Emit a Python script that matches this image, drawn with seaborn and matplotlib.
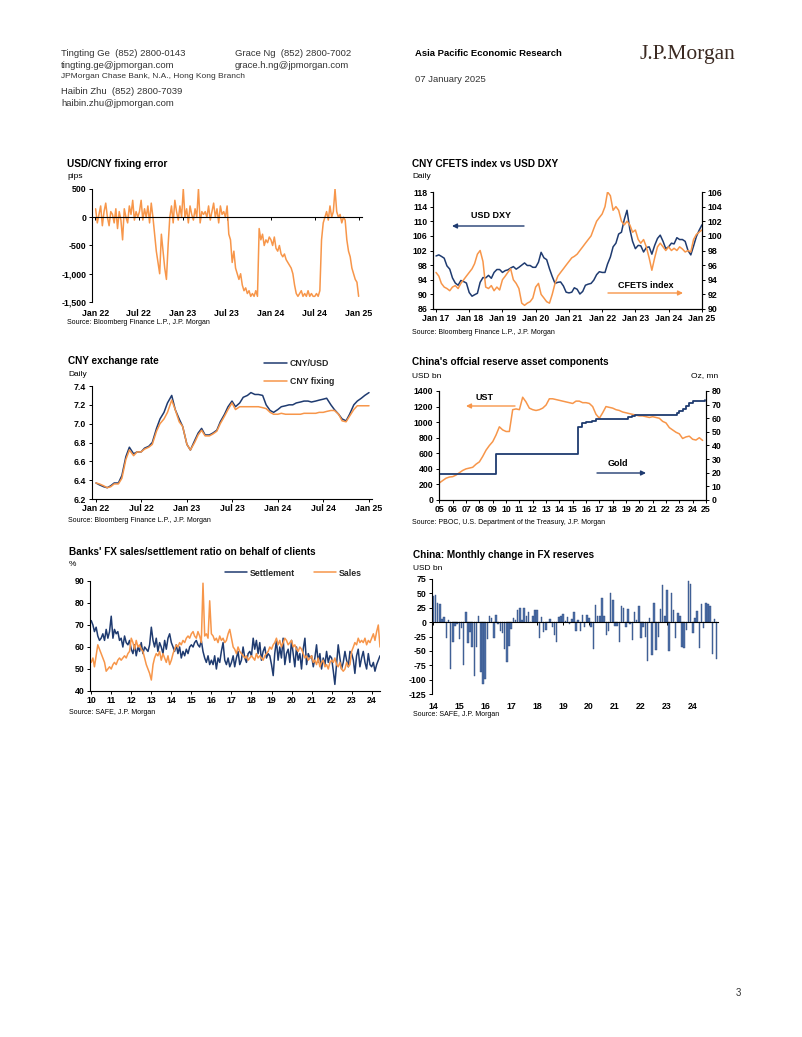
import numpy as np
import pandas as pd
import matplotlib
matplotlib.use("Agg")
import matplotlib.pyplot as plt
import matplotlib.ticker as mticker
from matplotlib.patches import FancyArrowPatch
from matplotlib import font_manager
import seaborn as sns

# ---------------- data ----------------
# USD/CNY fixing error, pips, weekly from 2022-01-03
fix_err = [
    150, -100, 50, 200, -150, 100, 250, 0, -150, 100, 50, -100, 150,
    -200, 100, -50, -400, 150, 0, -100, 200, 50, 300, -50, 100, 0,
    100, 300, -50, 150, 0, 200, -100, 250, 0, -300, -600, -800, -1000,
    -300, -600, -900, -1100, -500, 0, 200, -100, 300, 100, -50, 200, 0,
    500, 0, 150, -100, 200, 50, -50, 150, 0, 500, -100, 100, 50,
    100, 0, 200, -50, 100, 250, 0, 150, -100, 200, 50, 100, 0,
    200, -300, -400, -800, -600, -900, -1000, -1100, -1000, -1200, -1300, -1250, -1350,
    -1300, -1400, -1350, -1400, -1300, -1400, -200, -400, -300, -500, -400, -450, -350,
    -400, -500, -350, -550, -600, -500, -650, -700, -650, -750, -800, -850, -900,
    -1000, -1200, -1350, -1400, -1350, -1300, -1400, -1350, -1400, -1300, -1400, -1350, -1400,
    -1400, -1350, -1400, -1300, -400, -100, 0, 100, -50, 200, 0, 100, 500,
    100, 0, 50, -100, 0, -50, -400, -600, -700, -900, -1000, -1100, -1150,
    -1400,
]

# USD DXY (left) and CNY CFETS index (right), monthly from 2017-01
dxy = [
    100.5, 100.8, 100.4, 99.9, 97.8, 96.9, 94.5, 93.1, 92.5, 93.8, 93.5, 93.1,
    90.5, 89.5, 89.9, 90.3, 93.3, 94.6, 94.5, 95.2, 94.4, 96.0, 96.8, 96.8,
    96.0, 96.5, 96.7, 97.2, 97.6, 96.9, 97.4, 98.0, 98.6, 97.9, 97.9, 97.4,
    97.4, 98.8, 101.5, 100.0, 99.5, 97.0, 94.9, 93.0, 93.3, 93.4, 92.3, 90.6,
    90.4, 90.6, 91.8, 91.4, 90.1, 90.8, 92.5, 92.8, 93.0, 93.9, 95.4, 96.2,
    96.0, 96.0, 98.3, 100.2, 103.0, 104.0, 106.5, 107.0, 110.5, 113.0, 107.8, 104.5,
    102.5, 103.4, 103.3, 101.6, 102.8, 103.0, 101.0, 103.4, 105.3, 106.2, 104.5, 102.5,
    103.0, 104.0, 103.8, 105.5, 105.0, 105.0, 104.5, 102.0, 100.8, 103.2, 105.8, 107.5,
    109.0,
]
cfets = [
    95.0, 94.5, 93.5, 93.0, 92.8, 92.5, 93.0, 93.2, 92.8, 93.5, 94.0, 94.5,
    95.0, 95.5, 96.2, 97.5, 98.0, 96.5, 93.0, 92.8, 93.2, 92.5, 93.0, 92.6,
    94.0, 94.5, 95.0, 95.5, 94.0, 93.5, 92.8, 90.8, 90.5, 90.8, 91.0, 91.5,
    93.0, 93.5, 92.0, 91.5, 91.0, 90.8, 92.0, 93.5, 94.5, 95.0, 95.5, 96.0,
    96.5, 97.0, 97.2, 97.5, 98.0, 98.5, 99.0, 99.5, 100.0, 101.0, 102.0, 102.5,
    103.0, 104.0, 106.0, 105.5, 103.5, 104.0, 103.5, 102.0, 101.5, 102.0, 101.5, 100.5,
    100.8, 99.5, 99.0, 99.5, 98.5, 97.0, 95.3, 97.0, 98.5, 99.0, 98.5, 98.0,
    98.5, 98.0, 98.3, 98.0, 98.5, 98.2, 97.8, 98.0, 97.8, 99.5, 100.2, 100.5,
    100.8,
]

# CNY exchange rate, semi-monthly from 2022-01-01
cny_spot = [
    6.37, 6.35, 6.33, 6.32, 6.34, 6.37, 6.37, 6.45, 6.65, 6.75, 6.68, 6.70,
    6.70, 6.74, 6.76, 6.80, 6.95, 7.05, 7.12, 7.22, 7.30, 7.15, 7.05, 6.97,
    6.78, 6.72, 6.82, 6.90, 6.95, 6.88, 6.88, 6.90, 6.93, 7.02, 7.10, 7.18,
    7.24, 7.18, 7.22, 7.28, 7.30, 7.33, 7.31, 7.31, 7.30, 7.20, 7.14, 7.12,
    7.15, 7.18, 7.19, 7.20, 7.20, 7.22, 7.23, 7.24, 7.24, 7.23, 7.24, 7.25,
    7.26, 7.27, 7.20, 7.15, 7.10, 7.05, 7.03, 7.10, 7.20, 7.24, 7.27, 7.30,
    7.33,
]
cny_fix = [
    6.37, 6.36, 6.34, 6.32, 6.33, 6.36, 6.36, 6.42, 6.62, 6.72, 6.66, 6.70,
    6.70, 6.73, 6.75, 6.78, 6.92, 7.00, 7.05, 7.12, 7.25, 7.15, 7.02, 6.97,
    6.78, 6.72, 6.80, 6.88, 6.93, 6.87, 6.87, 6.89, 6.92, 7.00, 7.08, 7.15,
    7.22, 7.15, 7.18, 7.18, 7.18, 7.18, 7.18, 7.18, 7.17, 7.16, 7.12, 7.10,
    7.10, 7.11, 7.10, 7.10, 7.10, 7.10, 7.10, 7.11, 7.11, 7.11, 7.11, 7.12,
    7.12, 7.13, 7.14, 7.14, 7.10, 7.03, 7.02, 7.08, 7.15, 7.19, 7.19, 7.19,
    7.19,
]

# China's UST holdings, USD bn, quarterly from 2005Q1
ust = [
    220, 250, 280, 295, 300, 320, 350, 380, 400, 410, 420, 460,
    490, 560, 640, 700, 750, 835, 940, 900, 880, 880, 1160, 1170,
    1160, 1320, 1260, 1180, 1160, 1150, 1160, 1180, 1220, 1300, 1300, 1290,
    1280, 1270, 1260, 1250, 1240, 1270, 1270, 1250, 1250, 1240, 1200, 1100,
    1050, 1120, 1200, 1190, 1180, 1160, 1150, 1130, 1120, 1110, 1100, 1090,
    1080, 1080, 1070, 1060, 1070, 1060, 1050, 1010, 990, 930, 900, 870,
    850, 790, 810, 820, 780, 770, 800, 765,
]
# PBOC gold holdings, oz mn (step changes)
gold_dates = ["2005-01", "2009-04", "2015-06", "2015-09", "2016-01", "2016-06",
              "2016-10", "2018-12", "2019-03", "2019-06", "2019-09", "2022-11",
              "2023-01", "2023-04", "2023-07", "2023-10", "2024-01", "2024-05",
              "2024-12"]
gold_oz = [19.3, 33.9, 53.3, 56.7, 57.2, 58.1, 59.2, 59.6, 60.6, 61.6, 62.6,
           63.7, 65.1, 66.5, 68.7, 70.9, 72.6, 72.8, 73.3]

# Banks' FX settlement / sales ratio, %, monthly from 2010-01
settlement = [
    72, 70, 67, 69, 65, 63, 64, 66, 63, 68, 64, 67,
    74, 64, 68, 66, 67, 63, 64, 60, 65, 62, 61, 63,
    59, 57, 61, 56, 60, 58, 62, 57, 60, 59, 58, 61,
    69, 63, 60, 64, 58, 62, 60, 57, 63, 59, 64, 66,
    62, 60, 58, 61, 57, 60, 55, 58, 56, 59, 57, 60,
    61, 60, 62, 63, 61, 60, 63, 58, 55, 53, 56, 52,
    54, 52, 56, 50, 55, 53, 58, 62, 54, 52, 55, 51,
    53, 56, 51, 55, 58, 52, 54, 60, 55, 53, 57, 58,
    56, 64, 59, 63, 57, 62, 54, 58, 60, 55, 57, 56,
    52, 47, 57, 63, 54, 60, 55, 64, 52, 57, 59, 53,
    63, 57, 51, 60, 54, 57, 50, 59, 64, 52, 57, 55,
    56, 51, 55, 61, 53, 57, 50, 55, 52, 58, 53, 56,
    55, 49, 43, 52, 61, 55, 50, 53, 58, 54, 51, 58,
    57, 54, 48, 56, 59, 51, 55, 58, 53, 50, 57, 52,
    51, 53, 49, 52, 54, 56,
]
sales = [
    53, 55, 51, 56, 61, 59, 57, 55, 53, 49, 50, 51,
    50, 52, 53, 52, 54, 55, 54, 55, 56, 55, 57, 58,
    64, 62, 59, 63, 60, 61, 59, 58, 55, 52, 50, 48,
    45, 52, 55, 57, 56, 58, 54, 57, 55, 53, 56, 52,
    54, 57, 59, 61, 60, 62, 61, 63, 62, 64, 65, 64,
    66, 67, 65, 64, 67, 65, 62, 89, 65, 66, 64, 81,
    66, 65, 63, 64, 62, 65, 63, 64, 62, 63, 66, 68,
    64, 60, 59, 57, 60, 58, 57, 56, 55, 56, 54, 55,
    56, 55, 54, 57, 55, 56, 55, 54, 56, 57, 58, 60,
    59, 61, 62, 64, 61, 63, 60, 62, 64, 63, 61, 62,
    63, 60, 61, 59, 58, 60, 59, 57, 55, 56, 54, 55,
    56, 53, 54, 52, 55, 51, 53, 54, 51, 52, 50, 53,
    54, 53, 55, 52, 51, 53, 50, 49, 50, 53, 51, 52,
    58, 60, 62, 61, 64, 62, 63, 62, 64, 61, 63, 62,
    64, 66, 63, 67, 70, 60,
]

# China monthly change in FX reserves, USD bn, 2014-01 .. 2024-12
fx_chg = [
    45, 48, 34, 31, 5, 9, -27, 3, -81, -35, -6, -4,
    -30, -11, -74, 18, -37, -17, -43, -94, -43, 11, -87, -108,
    -99, -29, 10, 7, -28, 13, -4, -16, -19, -46, -69, -41,
    -12, 7, 4, 21, 24, 3, 24, 11, 17, 0, 10, 21,
    21, -27, 9, -18, -14, 1, 6, -8, -23, -34, 9, 11,
    15, 2, 9, -4, 6, 18, -15, 3, -15, 13, -9, 12,
    8, -9, -46, 30, 11, 10, 42, 11, -22, -15, 50, 39,
    -6, -6, -35, 28, 24, -8, 22, -4, -31, 17, 4, 28,
    -28, -8, -26, -68, 8, -57, 33, -49, -26, 23, 65, 11,
    56, -51, 51, 21, -28, 16, 11, -44, -45, -14, 71, 66,
    -19, 7, 20, -45, 31, -10, 34, 32, 28, -55, 5, -64,
]
fx_years = ["14", "15", "16", "17", "18", "19", "20", "21", "22", "23", "24"]

# ---------------- style ----------------
W, H = 802, 1037
NAVY = "#1f3b70"
ORANGE = "#f7964a"
BARC = "#4f70a8"

sns.set_theme(style="ticks")
installed = {f.name for f in font_manager.fontManager.ttflist}
NARROW = "Liberation Sans Narrow" if "Liberation Sans Narrow" in installed else "Liberation Sans"
plt.rcParams["font.family"] = ["Liberation Sans", "DejaVu Sans"]
plt.rcParams.update({
    "font.weight": "bold",
    "axes.unicode_minus": False,
    "axes.linewidth": 0.8,
    "axes.edgecolor": "black",
    "xtick.color": "black",
    "ytick.color": "black",
    "xtick.labelsize": 6.3,
    "ytick.labelsize": 6.3,
    "xtick.major.size": 2.3,
    "ytick.major.size": 2.3,
    "xtick.major.width": 0.7,
    "ytick.major.width": 0.7,
    "xtick.major.pad": 1.5,
    "ytick.major.pad": 1.8,
})

fig = plt.figure(figsize=(W / 100, H / 100), dpi=100)


def px(x, y):
    return (x / W, 1 - y / H)


def label(x, y, s, size=6.3, weight="normal", ha="left", family=None, color="black"):
    fig.text(*px(x, y), s, fontsize=size, fontweight=weight, ha=ha, va="center",
             color=color, family=family or ["Liberation Sans", "DejaVu Sans"])


def add_ax(l, t, r, b):
    return fig.add_axes([l / W, 1 - b / H, (r - l) / W, (b - t) / H])


def frame(ax, sides):
    for s in ax.spines:
        ax.spines[s].set_visible(s in sides)
    ax.set(xlabel="", ylabel="")


def arrow(x0, x1, y, color):
    fig.add_artist(FancyArrowPatch(px(x0, y), px(x1, y), transform=fig.transFigure,
                                   arrowstyle="-|>", mutation_scale=7, color=color,
                                   lw=1.0, shrinkA=0, shrinkB=0))


def title(x, y, s):
    label(x, y, s, size=7.2, weight="bold")


SRC_BB = "Source: Bloomberg Finance L.P., J.P. Morgan"

# ---------------- header ----------------
HC = "#333333"
label(61, 54, "Tingting Ge  (852) 2800-0143", size=6.8, family=NARROW, color=HC)
label(61, 66, "tingting.ge@jpmorgan.com", size=6.8, family=NARROW, color=HC)
label(61, 77, "JPMorgan Chase Bank, N.A., Hong Kong Branch", size=6.0, family=NARROW, color=HC)
label(61, 91, "Haibin Zhu  (852) 2800-7039", size=6.8, family=NARROW, color=HC)
label(61, 103, "haibin.zhu@jpmorgan.com", size=6.8, family=NARROW, color=HC)
label(235, 54, "Grace Ng  (852) 2800-7002", size=6.8, family=NARROW, color=HC)
label(235, 66, "grace.h.ng@jpmorgan.com", size=6.8, family=NARROW, color=HC)
label(415, 54, "Asia Pacific Economic Research", size=6.8, weight="bold", family=NARROW)
label(415, 79, "07 January 2025", size=6.8, family=NARROW, color=HC)
label(640, 54, "J.P.Morgan", size=15.5, family=["Liberation Serif", "DejaVu Serif"], color="#3b2a22")
label(741, 993, "3", size=7, ha="right", color=HC)

# ---------------- chart 1: USD/CNY fixing error ----------------
title(67, 164, "USD/CNY fixing error")
label(67, 177, "pips", size=6)
ax = add_ax(92, 189, 362, 302)
d1 = pd.date_range("2022-01-03", periods=len(fix_err), freq="7D")
sns.lineplot(x=d1, y=fix_err, ax=ax, color=ORANGE, linewidth=1.1)
ax.set_ylim(-1500, 500)
ax.set_yticks([500, 0, -500, -1000, -1500])
ax.yaxis.set_major_formatter(mticker.FuncFormatter(lambda v, p: f"{v:,.0f}"))
ax.set_xlim(pd.Timestamp("2021-12-19"), pd.Timestamp("2025-01-13"))
t1 = pd.date_range("2022-01-01", "2025-01-01", freq="6MS")
ax.set_xticks(t1)
ax.set_xticklabels([d.strftime("%b %y") for d in t1])
frame(ax, ("left", "bottom"))
ax.spines["bottom"].set_position(("data", 0))
ax.tick_params(axis="x", pad=63.5)
label(67, 323, SRC_BB, size=5)

# ---------------- chart 2: CFETS vs DXY ----------------
title(412, 164, "CNY CFETS index vs USD DXY")
label(412, 177, "Daily", size=6)
ax = add_ax(433, 192, 702, 309)
d2 = pd.date_range("2017-01-01", periods=len(dxy), freq="MS")
sns.lineplot(x=d2, y=dxy, ax=ax, color=NAVY, linewidth=1.1)
ax.set_ylim(86, 118)
ax.set_yticks(range(86, 119, 4))
ax.set_xlim(pd.Timestamp("2016-11-29"), pd.Timestamp("2025-01-02"))
t2 = pd.date_range("2017-01-01", "2025-01-01", freq="YS")
ax.set_xticks(t2)
ax.set_xticklabels([d.strftime("%b %y") for d in t2])
frame(ax, ("left", "bottom", "right"))
axr = ax.twinx()
sns.lineplot(x=d2, y=cfets, ax=axr, color=ORANGE, linewidth=1.1)
axr.set_ylim(90, 106)
axr.set_yticks(range(90, 107, 2))
frame(axr, ("left", "bottom", "right"))
label(471, 215, "USD DXY", size=6.5, weight="bold")
arrow(524, 452, 226, NAVY)
label(618, 286, "CFETS index", size=6.5, weight="bold")
arrow(608, 683, 293, ORANGE)
label(412, 332, SRC_BB, size=5)

# ---------------- chart 3: CNY exchange rate ----------------
title(68, 361, "CNY exchange rate")
label(68, 374, "Daily", size=6)
ax = add_ax(92, 386, 372, 499)
d3 = pd.date_range("2022-01-01", periods=len(cny_spot), freq="SMS")
sns.lineplot(x=d3, y=cny_spot, ax=ax, color=NAVY, linewidth=1.1, label="CNY/USD")
sns.lineplot(x=d3, y=cny_fix, ax=ax, color=ORANGE, linewidth=1.1, label="CNY fixing")
ax.set_ylim(6.2, 7.4)
ax.set_yticks(np.arange(6.2, 7.41, 0.2))
ax.yaxis.set_major_formatter(mticker.FormatStrFormatter("%.1f"))
ax.set_xlim(pd.Timestamp("2021-12-16"), pd.Timestamp("2025-01-13"))
ax.set_xticks(t1)
ax.set_xticklabels([d.strftime("%b %y") for d in t1])
frame(ax, ("left", "bottom"))
ax.legend(loc="upper left", bbox_to_anchor=px(264, 359.5), bbox_transform=fig.transFigure,
          frameon=False, fontsize=6.3, borderpad=0, borderaxespad=0, handlelength=2.6,
          handletextpad=0.35, labelspacing=1.0)
label(68, 520, SRC_BB, size=5)

# ---------------- chart 4: reserve asset components ----------------
title(412, 362, "China's offcial reserve asset components")
label(412, 376, "USD bn", size=6)
label(718, 376, "Oz, mn", size=6, ha="right")
ax = add_ax(439, 391, 706, 500)
d4 = pd.date_range("2005-01-01", periods=len(ust), freq="QS")
sns.lineplot(x=d4, y=ust, ax=ax, color=ORANGE, linewidth=1.1)
ax.set_ylim(0, 1400)
ax.set_yticks(range(0, 1401, 200))
ax.set_xlim(pd.Timestamp("2004-12-20"), pd.Timestamp("2025-01-01"))
t4 = pd.date_range("2005-01-01", "2025-01-01", freq="YS")
ax.set_xticks(t4)
ax.set_xticklabels([d.strftime("%y") for d in t4])
frame(ax, ("left", "bottom", "right"))
axr = ax.twinx()
sns.lineplot(x=pd.to_datetime(gold_dates), y=gold_oz, ax=axr, color=NAVY,
             linewidth=1.3, drawstyle="steps-post")
axr.set_ylim(0, 80)
axr.set_yticks(range(0, 81, 10))
frame(axr, ("left", "bottom", "right"))
label(475, 398, "UST", size=6.5, weight="bold")
arrow(515, 466, 406, ORANGE)
label(608, 463, "Gold", size=6.5, weight="bold")
arrow(597, 646, 473, NAVY)
label(412, 523, "Source: PBOC, U.S. Department of the Treasury, J.P. Morgan", size=5)

# ---------------- chart 5: banks' FX ratio ----------------
title(69, 552, "Banks' FX sales/settlement ratio on behalf of clients")
label(69, 565, "%", size=6)
ax = add_ax(90, 581, 380, 691)
d5 = pd.date_range("2010-01-01", periods=len(settlement), freq="MS")
sns.lineplot(x=d5, y=settlement, ax=ax, color=NAVY, linewidth=1.1, label="Settlement")
sns.lineplot(x=d5, y=sales, ax=ax, color=ORANGE, linewidth=1.1, label="Sales")
ax.set_ylim(40, 90)
ax.set_yticks(range(40, 91, 10))
ax.set_xlim(pd.Timestamp("2009-12-10"), pd.Timestamp("2024-06-01"))
t5 = pd.date_range("2010-01-01", "2024-01-01", freq="YS")
ax.set_xticks(t5)
ax.set_xticklabels([d.strftime("%y") for d in t5])
frame(ax, ("left", "bottom"))
ax.legend(loc="upper left", bbox_to_anchor=px(225, 568.5), bbox_transform=fig.transFigure,
          frameon=False, fontsize=6.3, borderpad=0, borderaxespad=0, handlelength=2.5,
          handletextpad=0.35, ncol=2, columnspacing=2.2)
label(69, 713, "Source: SAFE, J.P. Morgan", size=5)

# ---------------- chart 6: monthly change in FX reserves ----------------
title(413, 555, "China: Monthly change in FX reserves")
label(413, 568, "USD bn", size=6)
ax = add_ax(432, 579, 718, 694)
months = [d.strftime("%Y-%m") for d in pd.date_range("2014-01-01", periods=len(fx_chg), freq="MS")]
sns.barplot(x=months, y=fx_chg, ax=ax, color=BARC, saturation=1, width=0.7,
            edgecolor="#2c4a7e", linewidth=0.3)
ax.set_ylim(-125, 75)
ax.set_yticks(range(-125, 76, 25))
ax.set_xlim(-0.6, len(fx_chg) - 0.4)
ax.set_xticks(range(0, len(fx_chg), 12))
ax.set_xticklabels(fx_years)
frame(ax, ("left", "bottom"))
ax.spines["bottom"].set_position(("data", 0))
ax.tick_params(axis="x", pad=55)
label(413, 715, "Source: SAFE, J.P. Morgan", size=5)

fig.savefig("out.png", dpi=100, facecolor="white")
